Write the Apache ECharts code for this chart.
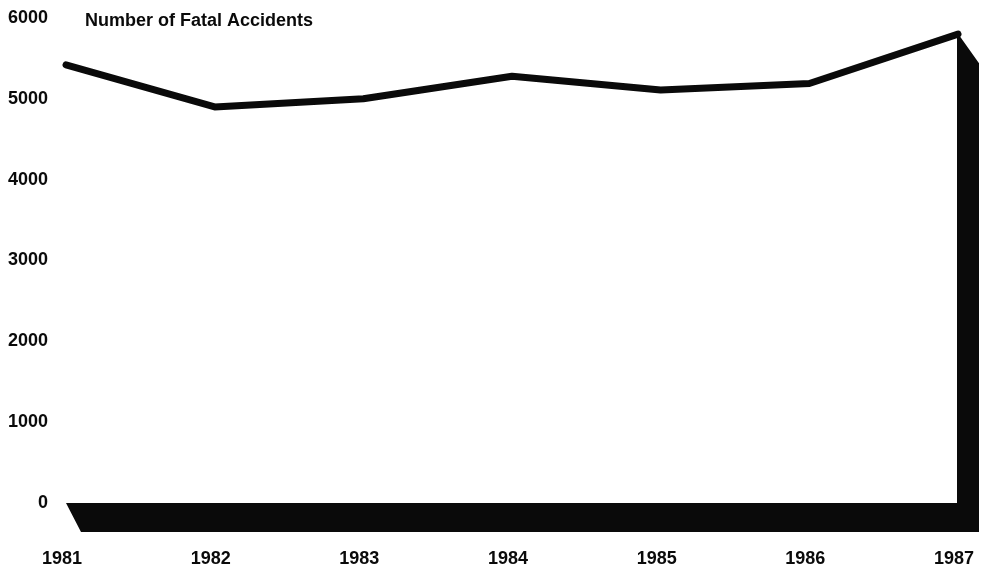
<!DOCTYPE html>
<html>
<head>
<meta charset="utf-8">
<style>
  html, body { margin: 0; padding: 0; background: #fff; }
  #chart { width: 989px; height: 573px; }
</style>
<script src="https://cdn.jsdelivr.net/npm/echarts@6/dist/echarts.min.js"></script>
</head>
<body>
<div id="chart"></div>
<script>
// Fatal accidents per year
var years = ['1981', '1982', '1983', '1984', '1985', '1986', '1987'];
var fatalAccidents = [5420, 4900, 5000, 5280, 5110, 5190, 5800];
var yTicks = [0, 1000, 2000, 3000, 4000, 5000, 6000];
var titleText = 'Number of Fatal Accidents';

var FONT = '"Liberation Sans", Arial, Helvetica, sans-serif';
var INK = '#0a0a0a';

var chart = echarts.init(document.getElementById('chart'), null, { renderer: 'canvas' });

// Floor slab under the axis joined to a side wall at the last year (pseudo-3D frame)
function renderFrame(params, api) {
  var first = api.coord([0, 0]);
  var last = api.coord([years.length - 1, 0]);
  var peak = api.coord([years.length - 1, fatalAccidents[fatalAccidents.length - 1]]);
  var depthY = 29;     // slab thickness
  var skewLeft = 15;   // slant of the slab's left end
  var skewRight = 21;  // slant of the wall's top
  return {
    type: 'polygon',
    shape: {
      points: [
        [first[0], first[1]],
        [last[0] - 1, last[1]],
        [last[0] - 1, peak[1] - 2],
        [last[0] + skewRight, peak[1] + depthY],
        [last[0] + skewRight, last[1] + depthY],
        [first[0] + skewLeft, first[1] + depthY]
      ]
    },
    style: { fill: INK }
  };
}

chart.setOption({
  animation: false,
  backgroundColor: '#ffffff',
  textStyle: { fontFamily: FONT },
  title: {
    text: titleText,
    left: 80,
    top: 7,
    textStyle: { fontFamily: FONT, fontSize: 18, fontWeight: 'bold', color: INK }
  },
  grid: { left: 66, right: 31, top: 18, bottom: 70 },
  xAxis: {
    type: 'category',
    data: years,
    boundaryGap: false,
    axisLine: { show: false },
    axisTick: { show: false },
    splitLine: { show: false },
    axisLabel: {
      margin: 47,
      fontFamily: FONT,
      fontSize: 18,
      fontWeight: 'bold',
      color: INK,
      padding: [0, 8, 0, 0]
    }
  },
  yAxis: {
    type: 'value',
    min: yTicks[0],
    max: yTicks[yTicks.length - 1],
    interval: 1000,
    axisLine: { show: false },
    axisTick: { show: false },
    splitLine: { show: false },
    axisLabel: {
      margin: 18,
      fontFamily: FONT,
      fontSize: 18,
      fontWeight: 'bold',
      color: INK,
      formatter: function (v) { return String(v); }
    }
  },
  series: [
    {
      type: 'custom',
      renderItem: renderFrame,
      data: [0],
      z: 1,
      silent: true
    },
    {
      type: 'line',
      data: fatalAccidents,
      showSymbol: false,
      symbol: 'none',
      z: 2,
      lineStyle: { color: INK, width: 7, join: 'round', cap: 'round' }
    }
  ]
});
</script>
</body>
</html>
